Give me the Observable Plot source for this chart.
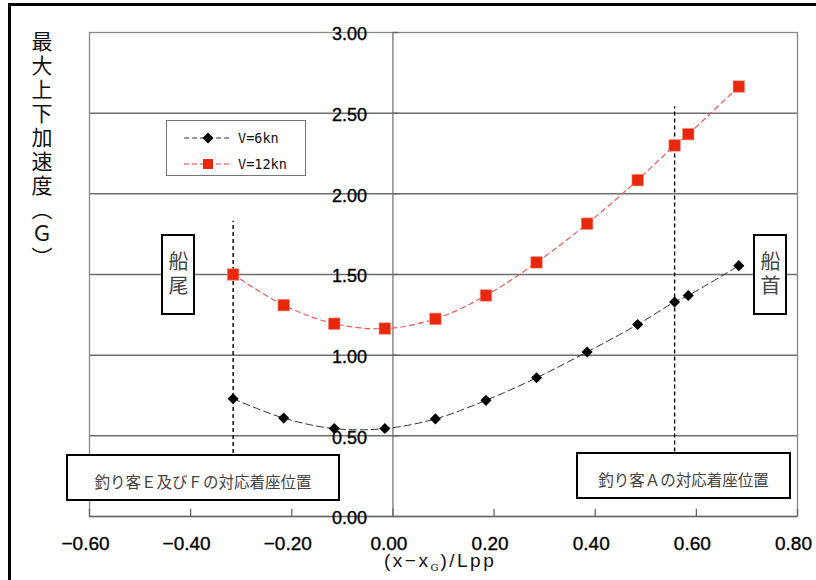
<!DOCTYPE html>
<html>
<head>
<meta charset="utf-8">
<script src="https://cdn.jsdelivr.net/npm/d3@7"></script>
<script src="https://cdn.jsdelivr.net/npm/@observablehq/plot@0.6"></script>
<style>
  body { margin: 0; background: #fff; }
  #fig { position: relative; width: 816px; height: 580px; overflow: hidden;
         font-family: "Liberation Sans", Arial, sans-serif; background: #fff; }
  #fig > svg { position: absolute; left: 0; top: 0; }
  .outer { position: absolute; left: 8px; top: 3px; right: -10px; bottom: -10px;
           border-top: 3px solid #000; border-left: 3px solid #000; }
  .ytitle { position: absolute; left: 31px; top: 31px; writing-mode: vertical-rl;
            font-family: "Noto Sans CJK JP", sans-serif; font-size: 21px;
            letter-spacing: 3px; line-height: 1; color: #111; }
  .xtitle { position: absolute; left: 384px; top: 551px; font-size: 19px; line-height: 1;
            letter-spacing: 2.5px; color: #111; white-space: nowrap; }
  .xtitle sub { font-family: "DejaVu Serif", serif; font-size: 10px; vertical-align: -4px;
                letter-spacing: 0; margin: 0 2px 0 0; }
  .box { position: absolute; box-sizing: border-box; border: 2px solid #000; background: #fff;
         font-family: "Noto Sans CJK JP", sans-serif; color: #444; }
  .vbox { writing-mode: vertical-rl; font-size: 20px; line-height: 1;
          display: flex; align-items: center; justify-content: center; letter-spacing: 4px; }
  .hbox { font-size: 15.5px; display: flex; align-items: center; justify-content: center;
          padding-top: 7px; white-space: nowrap; }
  .legend { position: absolute; left: 166px; top: 120px; width: 140px; height: 56px;
            box-sizing: border-box; border: 1px solid #777; background: #fff; }
  .legend .row { position: absolute; left: 16px; height: 20px; display: flex; align-items: center;
                 font-family: "DejaVu Sans Mono", monospace; font-size: 13.5px; color: #111; }
  .legend svg { margin-right: 5px; }
</style>
</head>
<body>
<div id="fig"></div>
<script>
// Position along the hull, (x - xG) / Lpp
const positions = [-0.316, -0.216, -0.116, -0.016, 0.084, 0.184, 0.284, 0.384, 0.484, 0.557, 0.584, 0.684];
// Maximum vertical acceleration (G) at 6 kn
const accel6kn = [0.73, 0.61, 0.545, 0.545, 0.605, 0.72, 0.86, 1.02, 1.19, 1.33, 1.37, 1.555];
// Maximum vertical acceleration (G) at 12 kn
const accel12kn = [1.50, 1.31, 1.195, 1.165, 1.225, 1.37, 1.575, 1.815, 2.085, 2.30, 2.37, 2.665];

const seriesNames = ["V=6kn", "V=12kn"];
const xTicks = [-0.6, -0.4, -0.2, 0, 0.2, 0.4, 0.6, 0.8];
const yTicks = [0, 0.5, 1, 1.5, 2, 2.5, 3];
const gridY = [0.5, 1, 1.5, 2, 2.5];

// Seat positions of anglers E/F (stern side) and A (bow side)
const seatX = [-0.316, 0.557];
const seatTop = [1.83, 2.54];
const seatBottom = [0.39, 0.40];

const rows6 = positions.map((x, i) => ({x, y: accel6kn[i]}));
const rows12 = positions.map((x, i) => ({x, y: accel12kn[i]}));
const seats = seatX.map((x, i) => ({x, y1: seatBottom[i], y2: seatTop[i]}));

const fmtX = d => (d < 0 ? "\u2212" : "") + Math.abs(d).toFixed(2);

const chart = Plot.plot({
  width: 816,
  height: 580,
  marginLeft: 89,
  marginRight: 19,
  marginTop: 32,
  marginBottom: 64,
  x: {domain: [-0.6, 0.8], axis: null},
  y: {domain: [0, 3], axis: null},
  style: {background: "transparent", fontFamily: "Liberation Sans, Arial, sans-serif"},
  marks: [
    Plot.ruleY(gridY, {stroke: "#6e6e6e", strokeWidth: 1.5}),
    Plot.frame({stroke: "#888", strokeWidth: 1.3}),
    Plot.ruleX([0], {stroke: "#777", strokeWidth: 1.3}),
    Plot.ruleY([0], {stroke: "#666", strokeWidth: 1.6}),
    // short ticks on the centre axis and along the bottom
    Plot.ruleY(yTicks, {x1: 0, x2: 0.012, stroke: "#666", strokeWidth: 1.3}),
    Plot.ruleX(xTicks, {y1: 0, y2: 0.045, stroke: "#666", strokeWidth: 1.3}),
    // tick labels
    Plot.text(yTicks, {x: 0, y: d => d, text: d => d.toFixed(2), textAnchor: "end",
      dx: -26, dy: 2, fontSize: 18, fill: "#000", stroke: "#000", strokeWidth: 0.35}),
    Plot.text(xTicks, {x: d => d, frameAnchor: "bottom", text: fmtX, dy: 33, dx: -4,
      fontSize: 19, fill: "#000", stroke: "#000", strokeWidth: 0.35}),
    // seat position markers
    Plot.ruleX(seats, {x: "x", y1: "y1", y2: "y2", stroke: "#000", strokeWidth: 1.4,
      strokeDasharray: "4,3"}),
    // series
    Plot.line(rows6, {x: "x", y: "y", stroke: "#333", strokeWidth: 1, strokeDasharray: "7,4",
      curve: "catmull-rom"}),
    Plot.line(rows12, {x: "x", y: "y", stroke: "#f25a5a", strokeWidth: 1.2, strokeDasharray: "5,4",
      curve: "catmull-rom"}),
    Plot.dot(rows6, {x: "x", y: "y", symbol: "diamond2", r: 5, fill: "#000", stroke: "none"}),
    Plot.dot(rows12, {x: "x", y: "y", symbol: "square", r: 6.5, fill: "#e8280c",
      stroke: "#f98a7a", strokeWidth: 0.6})
  ]
});

const fig = document.getElementById("fig");
fig.appendChild(chart);

const add = (html) => fig.insertAdjacentHTML("beforeend", html);

add(`<div class="outer"></div>`);
add(`<div class="ytitle">最大上下加速度（Ｇ）</div>`);
add(`<div class="xtitle">(x−x<sub>G</sub>)/Lpp</div>`);

add(`<div class="box vbox" style="left:161px;top:234px;width:34px;height:81px;">船尾</div>`);
add(`<div class="box vbox" style="left:753px;top:234px;width:34px;height:81px;">船首</div>`);
add(`<div class="box hbox" style="left:66px;top:454px;width:274px;height:47px;">釣り客Ｅ及びＦの対応着座位置</div>`);
add(`<div class="box hbox" style="left:576px;top:452px;width:215px;height:47px;">釣り客Ａの対応着座位置</div>`);

// legend swatches
const swatch6 = `<svg width="50" height="14"><line x1="1" x2="49" y1="7" y2="7" stroke="#333" stroke-dasharray="5,3"/><path d="M25,1.5L30.5,7L25,12.5L19.5,7Z" fill="#000"/></svg>`;
const swatch12 = `<svg width="50" height="14"><line x1="1" x2="49" y1="7" y2="7" stroke="#f47a7a" stroke-width="1.3" stroke-dasharray="5,3"/><rect x="20" y="2" width="10" height="10" fill="#e8280c"/></svg>`;
add(`<div class="legend">
  <div class="row" style="top:7px;">${swatch6}${seriesNames[0]}</div>
  <div class="row" style="top:33px;">${swatch12}${seriesNames[1]}</div>
</div>`);
</script>
</body>
</html>
